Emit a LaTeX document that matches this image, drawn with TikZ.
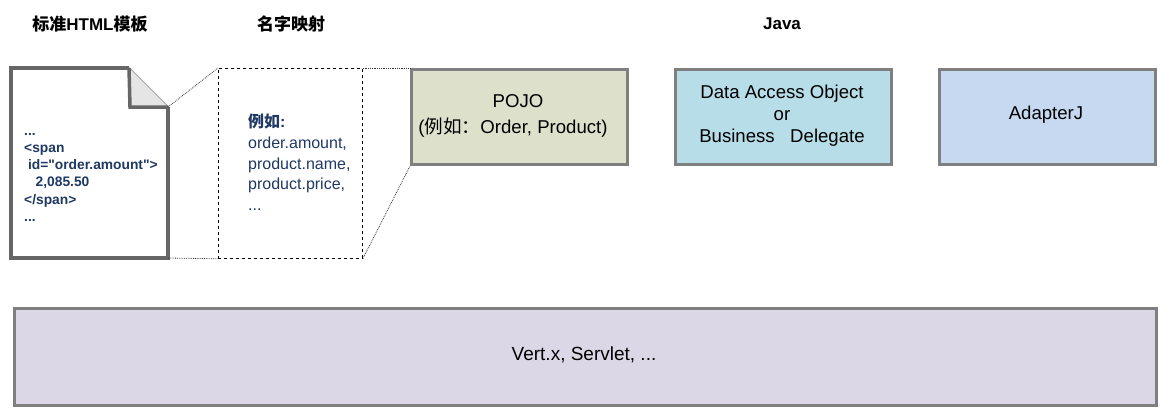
\documentclass[tikz,border=0pt]{standalone}
\usepackage{fontspec}
\setmainfont{Liberation Sans}
\newfontfamily\codefont{Liberation Sans}
\newfontfamily\cjk{Noto Sans CJK SC}
\definecolor{boxgray}{HTML}{7F7F7F}
\definecolor{docgray}{HTML}{666666}
\definecolor{navy}{HTML}{1F3864}
\definecolor{pojofill}{HTML}{DDE1CB}
\definecolor{daofill}{HTML}{B7DDE8}
\definecolor{adpfill}{HTML}{C6D9F0}
\definecolor{basefill}{HTML}{DCD7E6}
\begin{document}
\begin{tikzpicture}[x=1pt,y=-1pt,
  jbox/.style={draw=boxgray,line width=3pt,inner sep=0pt,anchor=north west,align=center},
  jtext/.style={font=\fontsize{18.6}{22}\selectfont,align=center},
  title/.style={font=\fontsize{17}{20}\selectfont\bfseries},
  zoomline/.style={densely dotted,line width=0.8pt,draw=black!80}]
\useasboundingbox (0,0) rectangle (1168,416);
% titles
\node[title] (t1) at (90,24) {{\cjk 标准}HTML{\cjk 模板}};
\node[title] (t2) at (291,24) {\cjk 名字映射};
\node[title] (t3) at (782,24) {Java};
% document
\coordinate (dtl) at (11,68);
\coordinate (dfa) at (129,68);
\coordinate (dfb) at (168,107);
\coordinate (dbr) at (168,258);
\coordinate (dbl) at (11,258);
\coordinate (dfc) at (130,107);
\draw[docgray,line width=4pt,fill=white,line join=miter] (dfa) -- (dtl) -- (dbl) -- (dbr) -- (dfb);
\draw[black!35,line width=2pt] (dfa) -- (dfb);
\fill[black!10] (dfa) -- (dfc) -- (dfb) -- cycle;
\draw[docgray,line width=3.5pt,line join=miter] (dfa) -- (dfc) -- (dfb);
\node[anchor=north west,inner sep=0pt,text=navy,font=\codefont\fontsize{13.8}{17.2}\selectfont\bfseries,align=left] (code) at (24,133)
 {...\\<span\\\ id="order.amount">\\\ \ \ 2,085.50\\</span>\\...};
% mapping box
\node[draw,dashed,line width=0.8pt,minimum width=144pt,minimum height=190pt,anchor=north west,inner sep=0pt] (map) at (218,68) {};
\node[anchor=north west,inner sep=0pt,text=navy,font=\fontsize{16}{20.6}\selectfont,align=left] (maptext) at (248,114)
 {{\cjk\bfseries 例如}\textbf{:}\\order.amount,\\product.name,\\product.price,\\...};
% java boxes
\node[jbox,fill=pojofill,minimum width=216pt,minimum height=95pt] (pojo) at (410,68) {};
\node[jtext] (pojot1) at (518,101) {POJO};
\node[jtext] (pojot2) at (513,128) {({\cjk 例如：}Order, Product)};
\node[jbox,fill=daofill,minimum width=216pt,minimum height=95pt] (dao) at (674,68) {};
\node[jtext] (daot) at (782,116) {Data Access Object\\or\\Business\ \ \ Delegate};
\node[jbox,fill=adpfill,minimum width=216pt,minimum height=95pt] (adp) at (938,68) {};
\node[jtext] (adpt) at (1046,115) {AdapterJ};
% base box
\node[jbox,fill=basefill,minimum width=1142pt,minimum height=97pt] (base) at (13,307) {};
\node[font=\fontsize{19}{22}\selectfont] (baset) at (584,355) {Vert.x, Servlet, ...};
% zoom lines
\draw[zoomline] (dfb) -- (map.north west);
\draw[zoomline] (dbr) -- (map.south west);
\draw[zoomline] (map.north east) -- (pojo.north west);
\draw[zoomline] (map.south east) -- (pojo.south west);
\end{tikzpicture}
\end{document}
